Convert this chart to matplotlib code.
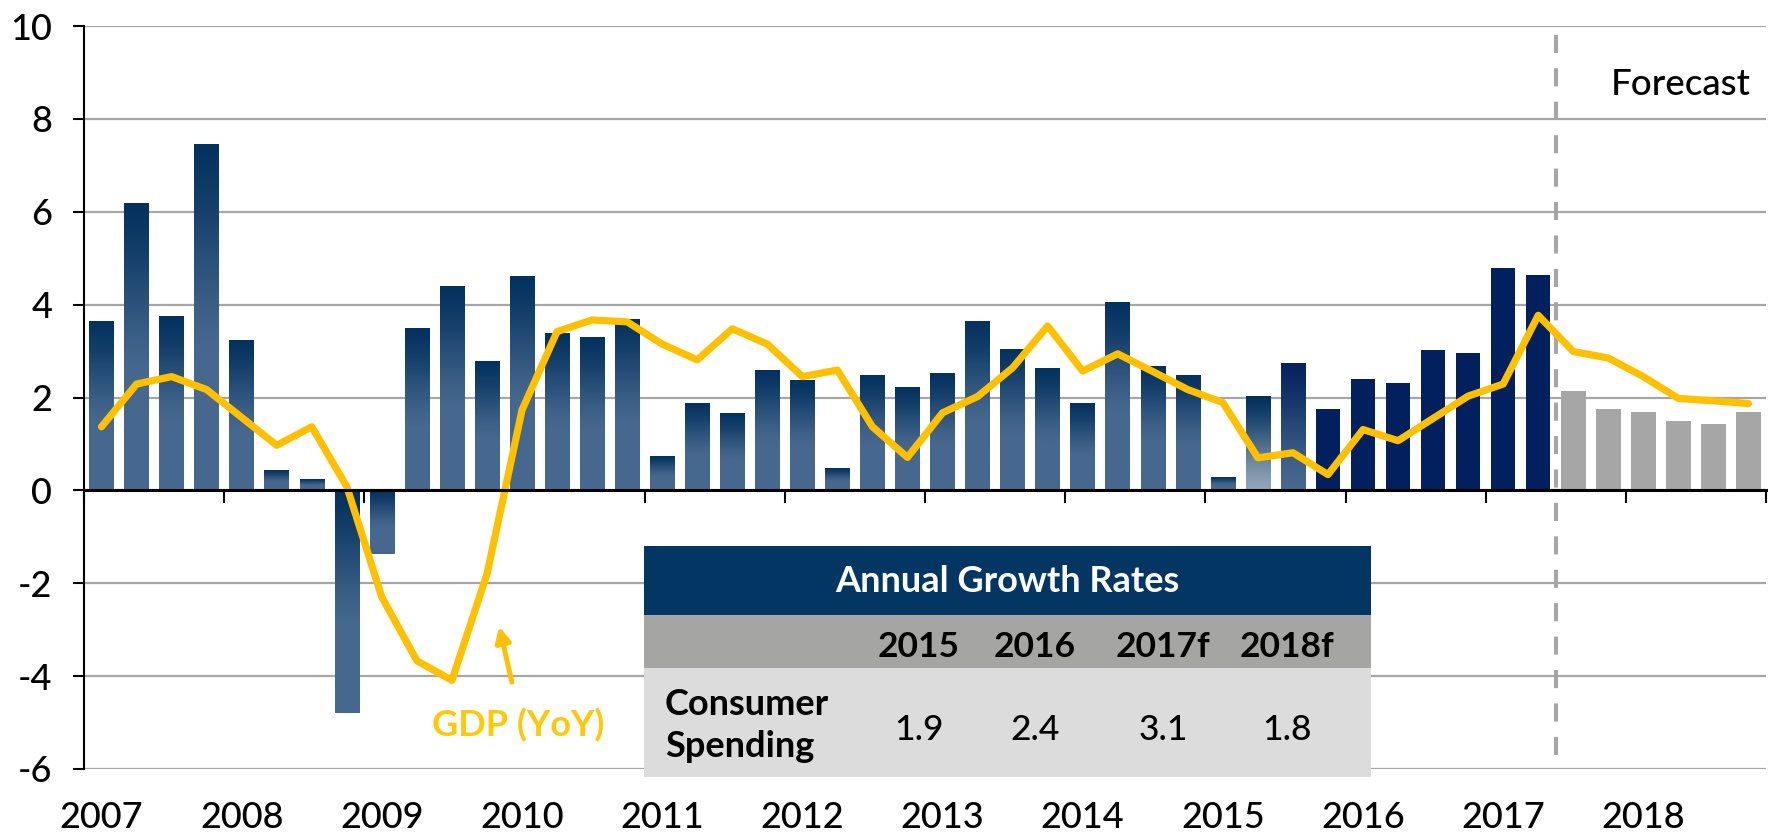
import numpy as np
import matplotlib
matplotlib.use("Agg")
import matplotlib.pyplot as plt
from matplotlib.colors import to_rgb
from matplotlib.patches import Rectangle

# ---------------- data ----------------
years = ["2007", "2008", "2009", "2010", "2011", "2012", "2013",
         "2014", "2015", "2016", "2017", "2018"]

consumer_spending = [3.63, 6.18, 3.74, 7.45, 3.22, 0.43, 0.22, -4.79,
                     -1.38, 3.48, 4.38, 2.76, 4.60, 3.37, 3.28, 3.67,
                     0.73, 1.86, 1.64, 2.57, 2.35, 0.46, 2.46, 2.20,
                     2.50, 3.63, 3.02, 2.61, 1.86, 4.04, 2.66, 2.46,
                     0.27, 2.01, 2.72, 1.75, 2.40, 2.31, 3.02, 2.96,
                     4.79, 4.64, 2.14, 1.75, 1.68, 1.49, 1.42, 1.68]

gdp_yoy = [1.37, 2.29, 2.45, 2.17, 1.57, 0.97, 1.37, 0.08,
           -2.30, -3.67, -4.09, -1.80, 1.73, 3.42, 3.67, 3.63,
           3.15, 2.81, 3.48, 3.15, 2.45, 2.59, 1.37, 0.71,
           1.67, 2.02, 2.64, 3.54, 2.57, 2.94, 2.56, 2.17,
           1.89, 0.70, 0.81, 0.34, 1.31, 1.07, 1.55, 2.03,
           2.29, 3.77, 2.99, 2.85, 2.45, 1.98, 1.93, 1.87]

n_forecast = 6
table_title = "Annual Growth Rates"
table_years = ["2015", "2016", "2017f", "2018f"]
table_row_label = "Consumer\nSpending"
table_values = [1.9, 2.4, 3.1, 1.8]

# ---------------- style ----------------
plt.rcParams["font.family"] = ["Lato", "DejaVu Sans"]
plt.rcParams["axes.unicode_minus"] = False
REG = "medium"

W, H = 1769, 835
fig = plt.figure(figsize=(W / 100, H / 100), dpi=100)
ax = fig.add_axes([84 / W, 1 - 769 / H, (1766 - 84) / W, (769 - 26) / H])

n = len(consumer_spending)
x = np.arange(n)
bw = 0.70
first_fc = n - n_forecast

NAVY_TOP = np.array(to_rgb("#04325f"))
NAVY_BOT = np.array(to_rgb("#46688e"))
SOLID = "#03205e"
GREY = "#a6a6a6"


def grad(c_top, c_bot, frac=0.6, m=200):
    t = np.linspace(0, 1, m)
    s = np.clip(t / frac, 0, 1)
    s = s * s * (3 - 2 * s) * 0.5 + s * 0.5
    cols = c_top[None, :] * (1 - s[:, None]) + c_bot[None, :] * s[:, None]
    return cols[:, None, :]


bars = ax.bar(x, consumer_spending, width=bw, zorder=2, linewidth=0)
for i, b in enumerate(bars):
    v = consumer_spending[i]
    x0 = b.get_x()
    x1 = x0 + b.get_width()
    ytop, ybot = max(v, 0), min(v, 0)
    if i >= first_fc:
        b.set_facecolor(GREY)
    elif first_fc - 7 <= i < first_fc:
        b.set_facecolor(SOLID)
    else:
        b.set_facecolor("none")
        if i == first_fc - 9:
            img = grad(np.array(to_rgb("#03305f")), np.array(to_rgb("#92a6b8")), frac=1.0)
        elif i == first_fc - 8:
            img = grad(np.array(to_rgb("#06245f")), NAVY_BOT, frac=0.95)
        else:
            img = grad(NAVY_TOP, NAVY_BOT, frac=0.6)
        ax.imshow(img, extent=[x0, x1, ybot, ytop], aspect="auto",
                  origin="upper", interpolation="bilinear", zorder=2)

# forecast divider
ax.plot([first_fc - 0.5, first_fc - 0.5], [-5.7, 10], color=GREY, lw=2.9,
        linestyle=(0, (4.5, 3.8)), zorder=3, solid_capstyle="butt")

# GDP line
ax.plot(x, gdp_yoy, color="#ffc000", lw=5.2, zorder=4,
        solid_capstyle="round", solid_joinstyle="round")

ax.set_xlim(-0.5, n - 0.5)
ax.set_ylim(-6, 10)
ax.set_yticks(np.arange(-6, 11, 2))
ax.yaxis.grid(True, color="#a6a6a6", lw=1.6, zorder=0)
ax.set_axisbelow(True)
ax.tick_params(axis="y", length=8, width=1.5, direction="out", pad=15,
               labelsize=26, colors="black")
for lab in ax.get_yticklabels():
    lab.set_fontweight(REG)

ax.spines["top"].set_visible(False)
ax.spines["right"].set_visible(False)
ax.spines["left"].set_linewidth(1.5)
ax.spines["bottom"].set_position(("data", 0))
ax.spines["bottom"].set_linewidth(2.2)
ax.spines["bottom"].set_zorder(5)
ax.set_xticks(np.arange(-0.5, n, 4))
ax.set_xticklabels([])
ax.tick_params(axis="x", length=9.5, width=1.5, direction="out")

for k, yr in enumerate(years):
    ax.annotate(yr, xy=(4 * k, -6), xytext=(0, -42.5), textcoords="offset points",
                ha="center", va="baseline", fontsize=26, fontweight=REG,
                color="black", annotation_clip=False)

# Forecast label
ax.text(n - 0.93, 8.51, "Forecast", ha="right", va="baseline", fontsize=26.5,
        fontweight=REG, color="black", zorder=5)

# GDP label and arrow
ax.text(9.43, -5.30, "GDP (YoY)", ha="left", va="baseline", fontsize=26,
        fontweight="bold", color="#ffc90a", zorder=5)
ax.annotate("", xy=(11.35, -2.93), xytext=(11.71, -4.13),
            arrowprops=dict(arrowstyle="-|>,head_length=0.9,head_width=0.45",
                            color="#ffc000", lw=3.6, shrinkA=0, shrinkB=0),
            zorder=5)

# ---------------- table (figure pixel coordinates) ----------------
def fx(px):
    return px / W


def fy(py):
    return 1 - py / H


def box(x0, y0, x1, y1, color):
    fig.add_artist(Rectangle((fx(x0), fy(y1)), fx(x1) - fx(x0), fy(y0) - fy(y1),
                             transform=fig.transFigure, facecolor=color,
                             edgecolor="none", zorder=10))


tx0, tx1 = 644, 1371
box(tx0, 546, tx1, 615, "#033662")
box(tx0, 615, tx1, 668, "#a5a5a4")
box(tx0, 668, tx1, 777, "#dcdcdd")

fig.text(fx((tx0 + tx1) / 2), fy(592), table_title, ha="center", va="baseline",
         fontsize=26, fontweight="bold", color="white", zorder=11)

col_centers = [919, 1035, 1163, 1287]
for cx, yr in zip(col_centers, table_years):
    fig.text(fx(cx), fy(657), yr, ha="center", va="baseline", fontsize=25.5,
             fontweight="bold", color="black", zorder=11)

label_lines = table_row_label.split("\n")
fig.text(fx(665), fy(715), label_lines[0], ha="left", va="baseline", fontsize=26,
         fontweight="bold", color="black", zorder=11)
fig.text(fx(665), fy(757), label_lines[1], ha="left", va="baseline", fontsize=26,
         fontweight="bold", color="black", zorder=11)

for cx, val in zip(col_centers, table_values):
    fig.text(fx(cx), fy(740), f"{val:.1f}", ha="center", va="baseline",
             fontsize=25.5, fontweight=REG, color="black", zorder=11)

fig.savefig("out.png", dpi=100)
